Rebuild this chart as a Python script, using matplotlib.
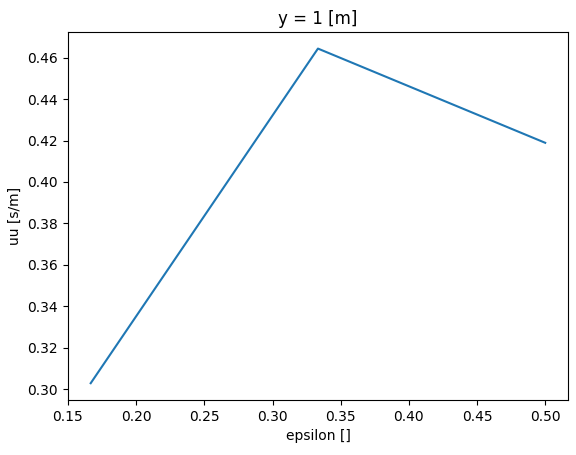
import numpy as np
import matplotlib
matplotlib.use("Agg")
import matplotlib.pyplot as plt

# values
epsilon = [1/6, 1/3, 1/2]
uu = [0.3028, 0.4644, 0.4189]

fig, ax = plt.subplots(figsize=(5.76, 4.55), dpi=100)
fig.subplots_adjust(left=0.118, right=0.986, top=0.930, bottom=0.121)

ax.plot(epsilon, uu)
ax.set_title('y = 1 [m]')
ax.set_xlabel('epsilon []')
ax.set_ylabel('uu [s/m]')

fig.savefig('out.png', dpi=100)
